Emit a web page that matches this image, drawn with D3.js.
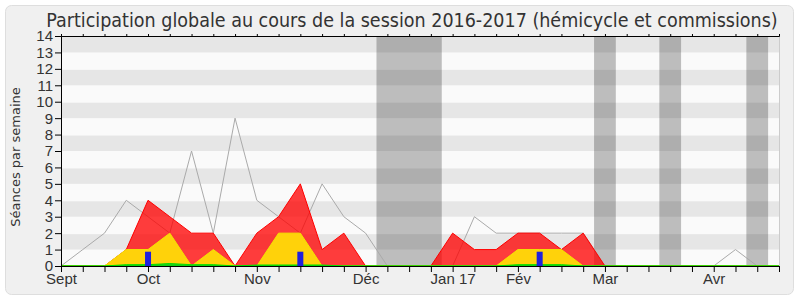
<!DOCTYPE html>
<html lang="fr">
<head>
<meta charset="utf-8">
<style>
  body { margin: 0; background: white; }
  svg { font-family: 'DejaVu Sans', sans-serif; }
  .axis text { fill: #333; }
  .axis path, .axis line { stroke: black; }
  .title { fill: #333; font-size: 19.5px; font-family: 'DejaVu Sans Condensed', 'DejaVu Sans', sans-serif; font-stretch: condensed; }
</style>
</head>
<body>
<svg width="800" height="300"></svg>
<script src="https://d3js.org/d3.v7.min.js"></script>
<script>
// one value per week, week 0 = first week of September 2016
const weeks = d3.range(0, 34);
const totalSeances = [0, 1, 2, 4, 3, 2, 7, 2, 9, 4, 3, 2, 5, 3, 2, 0, 0, 0, 0, 3, 2, 2, 2, 2, 2, 0, 0, 0, 0, 0, 0, 1, 0, 0];
const presences    = [0, 0, 0, 1, 4, 3, 2, 2, 0, 2, 3, 5, 1, 2, 0, 0, 0, 0, 2, 1, 1, 2, 2, 1, 2, 0, 0, 0, 0, 0, 0, 0, 0, 0];
const commissions  = [0, 0, 0, 1, 1, 2, 0, 1, 0, 0, 2, 2, 0, 0, 0, 0, 0, 0, 0, 0, 0, 1, 1, 1, 0, 0, 0, 0, 0, 0, 0, 0, 0, 0];
const interventions= [0, 0, 0, 0.08, 0.08, 0.15, 0.08, 0.08, 0, 0.06, 0.06, 0.06, 0.06, 0, 0, 0, 0, 0, 0, 0, 0, 0.08, 0.08, 0.08, 0, 0, 0, 0, 0, 0, 0, 0, 0, 0];
const questions    = [0, 0, 0, 0, 0.87, 0, 0, 0, 0, 0, 0, 0.87, 0, 0, 0, 0, 0, 0, 0, 0, 0, 0, 0.87, 0, 0, 0, 0, 0, 0, 0, 0, 0, 0, 0];
const monthWeeks  = [0, 4, 9, 14, 18, 21, 25, 30];
const monthLabels = ["Sept", "Oct", "Nov", "Déc", "Jan 17", "Fév", "Mar", "Avr"];
const vacances = [[15, 17], [25, 25], [28, 28], [32, 32]];
const yTicks = d3.range(0, 15);

const svg = d3.select("svg");
const x = d3.scaleLinear().domain([0, 33]).range([61, 779]);
const y = d3.scaleLinear().domain([0, 14]).range([266, 36]);

// cadre
svg.append("rect")
  .attr("x", 5.5).attr("y", 5.5).attr("width", 788).attr("height", 289)
  .attr("rx", 6).attr("fill", "#f0f0f0").attr("stroke", "#dedede");

svg.append("text").attr("class", "title")
  .attr("x", 412).attr("y", 26.5).attr("text-anchor", "middle")
  .text("Participation globale au cours de la session 2016-2017 (hémicycle et commissions)");

// fond rayé
svg.append("rect")
  .attr("x", x(0)).attr("y", y(14)).attr("width", x(33) - x(0)).attr("height", y(0) - y(14))
  .attr("fill", "#fafafa");
svg.append("g").selectAll("rect")
  .data(yTicks.filter(d => d % 2 == 1 && d < 14))
  .join("rect")
  .attr("x", x(0)).attr("width", x(33) - x(0))
  .attr("y", d => y(d + 1) + 1).attr("height", d => y(d) - y(d + 1) - 1)
  .attr("fill", "#e6e6e6");

// vacances
svg.append("g").selectAll("rect")
  .data(vacances)
  .join("rect")
  .attr("x", d => x(d[0] - 0.5)).attr("width", d => x(d[1] + 0.5) - x(d[0] - 0.5))
  .attr("y", y(14)).attr("height", y(0) - y(14))
  .attr("fill", "rgba(0,0,0,0.245)");

svg.append("line")
  .attr("x1", x(33) + 0.5).attr("x2", x(33) + 0.5).attr("y1", y(14)).attr("y2", y(0))
  .attr("stroke", "#ccc");

const line = d3.line().x((d, i) => x(i)).y(d => y(d));
const area = d3.area().x((d, i) => x(i)).y0(y(0)).y1(d => y(d));

svg.append("path").datum(totalSeances)
  .attr("d", line).attr("fill", "none").attr("stroke", "#aaa").attr("stroke-width", 1);

svg.append("path").datum(presences)
  .attr("d", area).attr("fill", "rgba(255,0,0,0.76)").attr("stroke", "#ff0000").attr("stroke-width", 1);

svg.append("path").datum(commissions)
  .attr("d", area).attr("fill", "#ffd20a").attr("stroke", "#f2e600").attr("stroke-width", 1);

svg.append("path").datum(interventions)
  .attr("d", area).attr("fill", "#22cc22").attr("stroke", "#00dd00").attr("stroke-width", 1);

svg.append("g").selectAll("rect")
  .data(weeks.filter(w => questions[w] > 0))
  .join("rect")
  .attr("x", w => x(w) - 3).attr("width", 6)
  .attr("y", w => y(questions[w])).attr("height", w => y(0) - y(questions[w]))
  .attr("fill", "#2020dd");

// axes
svg.append("g").attr("class", "axis")
  .attr("transform", "translate(61,0)")
  .call(d3.axisLeft(y).tickValues(yTicks).tickSize(6).tickPadding(2).tickFormat(d3.format("d")))
  .call(g => g.selectAll("text").attr("font-size", 15).attr("dy", "0.33em"));

svg.append("g").attr("class", "axis")
  .attr("transform", "translate(0,266)")
  .call(d3.axisBottom(x).tickValues(weeks).tickSize(6).tickPadding(1)
    .tickFormat(w => monthWeeks.includes(w) ? monthLabels[monthWeeks.indexOf(w)] : ""))
  .call(g => g.select(".domain").attr("stroke", "#300"))
  .call(g => g.selectAll("text").attr("font-size", 15));

svg.append("g").attr("class", "axis")
  .attr("transform", "translate(0,36)")
  .call(d3.axisTop(x).tickValues(weeks).tickSize(2).tickFormat(""))
  .call(g => g.select(".domain").attr("stroke", "none"));

svg.append("text")
  .attr("transform", "translate(20,157) rotate(-90)")
  .attr("text-anchor", "middle").attr("fill", "#333").attr("font-size", 13)
  .text("Séances par semaine");
</script>
</body>
</html>
